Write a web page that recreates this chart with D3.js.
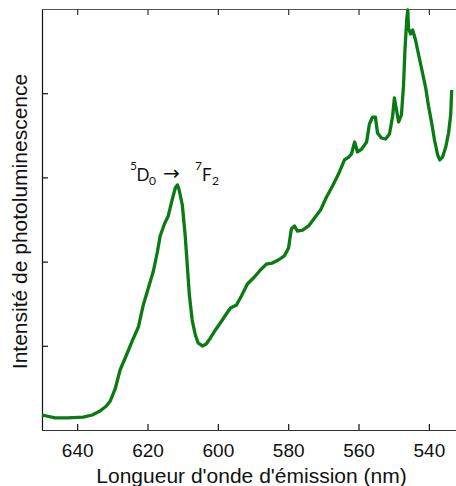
<!DOCTYPE html>
<html>
<head>
<meta charset="utf-8">
<script src="https://cdn.jsdelivr.net/npm/d3@7"></script>
<style>
  html, body { margin: 0; padding: 0; background: #fff; }
  svg { display: block; }
</style>
</head>
<body>
<svg id="chart" width="456" height="486"></svg>
<script>
// Emission wavelength (nm) and photoluminescence intensity (arbitrary units)
const wavelength = [650.0, 646.3, 642.8, 638.3, 635.7, 633.5, 631.7, 630.6, 629.2, 627.8,
  626.1, 624.1, 622.6, 621.2, 620.1, 618.4, 617.2, 616.4, 615.2, 614.1,
  613.0, 612.1, 611.5, 611.0, 610.1, 609.3, 608.7, 608.1, 607.3, 606.4,
  605.6, 604.4, 603.3, 602.1, 600.7, 599.3, 597.6, 596.4, 594.7, 593.3,
  591.6, 589.6, 587.9, 586.2, 584.5, 582.8, 581.1, 579.9, 579.1, 578.2,
  577.4, 575.9, 574.2, 572.5, 570.8, 569.1, 567.4, 565.7, 564.0, 562.8,
  562.0, 561.1, 560.3, 559.1, 557.7, 556.9, 556.0, 555.2, 554.6, 553.5,
  552.3, 551.2, 550.3, 549.8, 549.2, 548.6, 547.8, 547.2, 546.8, 546.3,
  546.0, 545.8, 545.2, 544.6, 543.8, 542.9, 542.1, 540.9, 540.1, 539.2,
  538.4, 537.5, 536.9, 536.1, 535.2, 534.4, 533.8, 533.5];
const intensity = [0.178, 0.143, 0.143, 0.154, 0.178, 0.226, 0.285, 0.344, 0.487, 0.713,
  0.879, 1.081, 1.223, 1.485, 1.639, 1.876, 2.114, 2.304, 2.447, 2.542,
  2.732, 2.874, 2.910, 2.850, 2.672, 2.316, 1.960, 1.603, 1.306, 1.128,
  1.033, 0.998, 1.021, 1.093, 1.188, 1.271, 1.378, 1.449, 1.485, 1.591,
  1.734, 1.817, 1.900, 1.971, 1.983, 2.019, 2.067, 2.162, 2.387, 2.423,
  2.363, 2.375, 2.423, 2.518, 2.613, 2.767, 2.898, 3.040, 3.207, 3.242,
  3.278, 3.420, 3.302, 3.337, 3.420, 3.634, 3.717, 3.717, 3.527, 3.468,
  3.456, 3.515, 3.729, 3.943, 3.800, 3.658, 3.741, 4.097, 4.513, 4.869,
  4.988, 4.774, 4.703, 4.751, 4.632, 4.454, 4.299, 4.062, 3.848, 3.646,
  3.444, 3.266, 3.207, 3.242, 3.361, 3.527, 3.741, 4.038];
const xTicks = [640, 620, 600, 580, 560, 540];
const yTicks = [1, 2, 3, 4];
const xDomain = [650, 532];
const yDomain = [0, 5];

const svg = d3.select("#chart");
const m = { left: 42, top: 9, right: 457, bottom: 430 };

const x = d3.scaleLinear().domain(xDomain).range([m.left, m.right]);
const y = d3.scaleLinear().domain(yDomain).range([m.bottom, m.top]);

const axisColor = "#333";
const font = "'Liberation Sans', Arial, Helvetica, sans-serif";

// Bottom axis (ticks inward)
const gx = svg.append("g").attr("transform", `translate(0,${m.bottom})`)
  .call(d3.axisBottom(x).tickValues(xTicks).tickSizeInner(-6).tickSizeOuter(0).tickPadding(14)
    .tickFormat(d3.format("d")));
gx.select(".domain").attr("stroke", axisColor).attr("stroke-width", 1.2);
gx.selectAll(".tick line").attr("stroke", "#111").attr("stroke-width", 1.2);
gx.selectAll(".tick text").attr("font-family", font).attr("font-size", 19).attr("fill", "#111");

// Top axis (ticks inward, no labels)
const gt = svg.append("g").attr("transform", `translate(0,${m.top})`)
  .call(d3.axisTop(x).tickValues(xTicks).tickSizeInner(-6).tickSizeOuter(0).tickFormat(""));
gt.select(".domain").attr("stroke", "#555").attr("stroke-width", 1.2);
gt.selectAll(".tick line").attr("stroke", "#333").attr("stroke-width", 1.2);

// Left axis (ticks inward, no labels)
const gy = svg.append("g").attr("transform", `translate(${m.left},0)`)
  .call(d3.axisLeft(y).tickValues(yTicks).tickSizeInner(-6).tickSizeOuter(0).tickFormat(""));
gy.select(".domain").attr("stroke", "#111").attr("stroke-width", 1.2);
gy.selectAll(".tick line").attr("stroke", "#111").attr("stroke-width", 1.2);

// Spectrum line
const pts = wavelength.map((w, i) => [w, intensity[i]]);
svg.append("path")
  .datum(pts)
  .attr("fill", "none")
  .attr("stroke", "#0a7b12")
  .attr("stroke-width", 3.3)
  .attr("stroke-linejoin", "round")
  .attr("d", d3.line().x(d => x(d[0])).y(d => y(d[1])));

// Axis titles
svg.append("text")
  .attr("x", 251.5).attr("y", 482.5)
  .attr("text-anchor", "middle")
  .attr("font-family", font).attr("font-size", 21).attr("fill", "#111")
  .text("Longueur d'onde d'émission (nm)");

svg.append("text")
  .attr("transform", `translate(27,${(m.top + m.bottom) / 2 + 2}) rotate(-90)`)
  .attr("text-anchor", "middle")
  .attr("font-family", font).attr("font-size", 21).attr("fill", "#111")
  .text("Intensité de photoluminescence");

// Annotation 5D0 -> 7F2
const annFont = "Lato, 'Open Sans', sans-serif";
const ann = svg.append("text")
  .attr("font-family", annFont).attr("font-size", 17).attr("fill", "#111");
ann.append("tspan").attr("x", 130).attr("y", 170).attr("font-size", 12).text("5");
ann.append("tspan").attr("x", 136.5).attr("y", 181).text("D");
ann.append("tspan").attr("x", 149).attr("y", 184.5).attr("font-size", 12).text("0");
ann.append("tspan").attr("x", 163).attr("y", 179.5).attr("font-family", "'DejaVu Sans', sans-serif")
  .attr("font-size", 20).text("\u2192");
ann.append("tspan").attr("x", 195).attr("y", 170).attr("font-size", 12).text("7");
ann.append("tspan").attr("x", 202).attr("y", 181).text("F");
ann.append("tspan").attr("x", 212).attr("y", 184.5).attr("font-size", 12).text("2");
</script>
</body>
</html>
